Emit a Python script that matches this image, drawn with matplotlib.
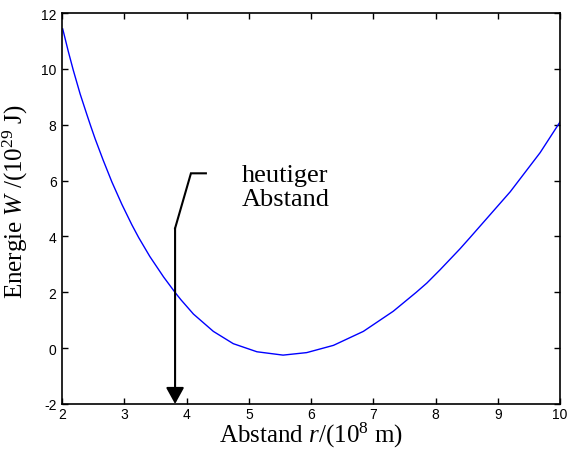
import numpy as np
import matplotlib
matplotlib.use('Agg')
import matplotlib.pyplot as plt

plt.rcParams['font.family'] = ['Liberation Sans', 'DejaVu Sans']
plt.rcParams['mathtext.fontset'] = 'custom'
plt.rcParams['mathtext.rm'] = 'Liberation Serif'
plt.rcParams['mathtext.it'] = 'Liberation Serif:italic'
plt.rcParams['axes.unicode_minus'] = False

# Abstand r (1e8 m) und Energie W (1e29 J)
r = [2.01, 2.10, 2.18, 2.29, 2.40, 2.46, 2.53, 2.66, 2.80, 2.96, 3.12,
     3.23, 3.41, 3.63, 3.82, 3.91, 4.11, 4.43, 4.75, 5.13, 5.55, 5.93,
     6.36, 6.84, 7.32, 7.69, 7.86, 8.07, 8.39, 8.55, 9.20, 9.68, 10.0]
W = [11.43, 10.62, 9.95, 9.10, 8.35, 7.95, 7.50, 6.73, 5.95, 5.15, 4.42,
     3.96, 3.28, 2.55, 1.98, 1.73, 1.22, 0.60, 0.16, -0.13, -0.25, -0.16,
     0.10, 0.60, 1.32, 2.00, 2.33, 2.80, 3.55, 3.95, 5.60, 7.00, 8.10]

# heutiger Abstand
r_heute = 3.815
pointer_x = [4.31, 4.07, r_heute]
pointer_y = [6.26, 6.26, 4.29]

fig = plt.figure(figsize=(5.75, 4.52), dpi=100)
ax = fig.add_axes([0.108, 0.104, 0.866, 0.865])

ax.plot(r, W, color='#0000ff', lw=1.0)

ax.plot(pointer_x, pointer_y, color='k', lw=1.5, solid_joinstyle='miter')
ax.annotate('', xy=(r_heute, -2), xytext=(r_heute, pointer_y[-1]),
            arrowprops=dict(arrowstyle='-|>,head_length=1.0,head_width=0.55',
                            color='k', lw=1.5, shrinkA=0, shrinkB=0,
                            mutation_scale=10))
ax.text(4.89, 6.6, 'heutiger\nAbstand', family='Liberation Serif', fontsize=19,
        va='top', ha='left', linespacing=1.15)

ax.set_xlim(2, 10)
ax.set_ylim(-2, 12)
ax.set_xticks(range(2, 11))
ax.set_yticks(range(-2, 13, 2))
ax.tick_params(direction='in', top=True, right=True, length=4, width=1,
               labelsize=10, pad=4)
ax.tick_params(axis='x', pad=2.5)
for s in ax.spines.values():
    s.set_linewidth(1.2)

ax.set_xlabel(r'Abstand $r$/(10$^8$ m)', family='Liberation Serif',
              fontsize=18, labelpad=-1)
ax.set_ylabel(r'Energie $W$ /(10$^{29}$ J)', family='Liberation Serif',
              fontsize=18)
ax.yaxis.set_label_coords(-0.064, 0.52)

fig.savefig('out.png', dpi=100)
